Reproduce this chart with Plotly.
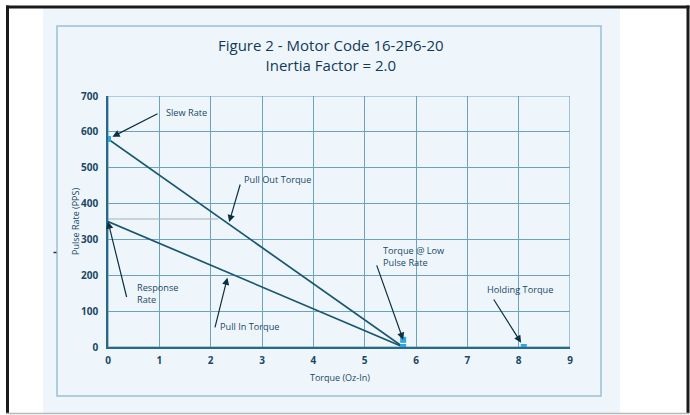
import plotly.graph_objects as go

# Motor code 16-2P6-20 speed/torque curves
torque_pullout = [0.0, 5.75]
rate_pullout = [580, 0]
torque_pullin = [0.0, 5.75]
rate_pullin = [350, 0]

slew_point = (0.0, 580)
response_point = (0.0, 350)
low_pulse_points = ([5.75, 5.75], [20, 0])
holding_point = (8.1, 0)
ref_level = 357          # faint horizontal guide near the response rate
ref_end_torque = 2.15

x_ticks = [0, 1, 2, 3, 4, 5, 6, 7, 8, 9]
y_ticks = [0, 100, 200, 300, 400, 500, 600, 700]

W, H = 690, 415
PX0, PX1 = 108, 570      # plot area in pixels
PY0, PY1 = 96, 347

TXT = "#1b4866"
GRID = "#6aa2c0"
AXIS = "#2a6888"
LINE = "#1a5670"
CYAN = "#2aa8e2"
ARROW = "#0e2f40"
FONT = "Open Sans"


def px(x):
    return x / W


def py(y):
    return 1 - y / H


def on_line(xs, ys, x):
    return ys[0] + (ys[1] - ys[0]) * (x - xs[0]) / (xs[1] - xs[0])


fig = go.Figure()

fig.add_trace(go.Scatter(x=torque_pullout, y=rate_pullout, mode="lines",
                         line=dict(color=LINE, width=1.7), hoverinfo="skip"))
fig.add_trace(go.Scatter(x=torque_pullin, y=rate_pullin, mode="lines",
                         line=dict(color=LINE, width=1.7), hoverinfo="skip"))
fig.add_trace(go.Scatter(x=[0, ref_end_torque], y=[ref_level, ref_level],
                         mode="lines", line=dict(color="#a4b2b8", width=1),
                         hoverinfo="skip"))
fig.add_trace(go.Scatter(
    x=[slew_point[0], low_pulse_points[0][0], low_pulse_points[0][1], holding_point[0]],
    y=[slew_point[1], low_pulse_points[1][0], low_pulse_points[1][1], holding_point[1]],
    mode="markers", marker=dict(color=CYAN, size=6, symbol="square"),
    hoverinfo="skip"))

# page decoration: paper sheet, border lines and inner frame
shapes = [
    dict(type="rect", xref="paper", yref="paper", x0=px(43), x1=px(620),
         y0=py(413), y1=py(8), fillcolor="#eef6fb", line=dict(width=0), layer="below"),
    dict(type="rect", xref="paper", yref="paper", x0=px(57), x1=px(601),
         y0=py(396), y1=py(26), fillcolor="rgba(0,0,0,0)",
         line=dict(color="#9cc0d4", width=1.5), layer="below"),
    dict(type="line", xref="paper", yref="paper", x0=px(7.5), x1=px(7.5),
         y0=py(413), y1=py(5.5), line=dict(color="#1a1a1a", width=3)),
    dict(type="line", xref="paper", yref="paper", x0=px(688), x1=px(688),
         y0=py(413), y1=py(5.5), line=dict(color="#1a1a1a", width=3)),
    dict(type="line", xref="paper", yref="paper", x0=px(6), x1=px(689.5),
         y0=py(7), y1=py(7), line=dict(color="#1a1a1a", width=3)),
    dict(type="line", xref="paper", yref="paper", x0=px(6), x1=px(689.5),
         y0=py(413.5), y1=py(413.5), line=dict(color="#b8b8b8", width=1.5)),
    # small ink mark on the sheet margin
    dict(type="line", xref="paper", yref="paper", x0=px(53.5), x1=px(56.5),
         y0=py(252.5), y1=py(252.5), line=dict(color="#333333", width=1.5)),
    # plot area border
    dict(type="rect", xref="x", yref="y", x0=0, x1=9, y0=0, y1=700,
         line=dict(color=GRID, width=1.2), fillcolor="rgba(0,0,0,0)", layer="below"),
]

annotations = [
    dict(text="Figure 2 - Motor Code 16-2P6-20<br>Inertia Factor = 2.0",
         xref="paper", yref="paper", x=px(331), y=py(55), showarrow=False,
         xanchor="center", yanchor="middle",
         font=dict(family=FONT, size=15, color="#123a58", weight=500)),
    dict(text="Torque (Oz-In)", xref="paper", yref="paper", x=px(340), y=py(377),
         xanchor="center", yanchor="middle", showarrow=False,
         font=dict(family=FONT, size=9, color=TXT, weight=500)),
    dict(text="Pulse Rate (PPS)", xref="paper", yref="paper", x=px(75), y=py(222),
         xanchor="center", yanchor="middle", showarrow=False, textangle=-90,
         font=dict(family=FONT, size=9, color=TXT, weight=500)),
]


def label(text, x, y, align="left"):
    annotations.append(dict(text=text, xref="paper", yref="paper", x=px(x), y=py(y),
                            xanchor="left", yanchor="middle", align=align,
                            showarrow=False,
                            font=dict(family=FONT, size=9.2, color=TXT, weight=500)))


def pointer(x, y, ax, ay, standoff=2):
    annotations.append(dict(text="", x=x, y=y, xref="x", yref="y", ax=ax, ay=ay,
                            showarrow=True, arrowhead=2, arrowsize=1.2,
                            arrowwidth=1.2, arrowcolor=ARROW, standoff=standoff))


label("Slew Rate", 164, 113)
pointer(slew_point[0], slew_point[1], 51, -26, standoff=5)

label("Pull Out Torque", 242, 179)
t_po = 2.35
pointer(t_po, on_line(torque_pullout, rate_pullout, t_po), 12, -41, standoff=2)

label("Pull In Torque", 218, 326)
pointer(t_po, on_line(torque_pullin, rate_pullin, t_po), -14, 56, standoff=5)

label("Response<br>Rate", 135, 293)
pointer(response_point[0], response_point[1], 19, 77, standoff=0)

label("Torque @ Low<br>Pulse Rate", 381, 256)
pointer(low_pulse_points[0][0], low_pulse_points[1][0], -27, -76, standoff=0)

label("Holding Torque", 485, 289)
pointer(holding_point[0], holding_point[1], -31, -49, standoff=5)

fig.update_layout(
    width=W, height=H, margin=dict(l=0, r=0, t=0, b=0, autoexpand=False),
    paper_bgcolor="white", plot_bgcolor="rgba(0,0,0,0)",
    showlegend=False, shapes=shapes, annotations=annotations,
    xaxis=dict(domain=[px(PX0), px(PX1)], range=[0, 9], tickvals=x_ticks,
               showgrid=True, gridcolor=GRID, gridwidth=1, zeroline=False,
               showline=True, linecolor=AXIS, linewidth=1.6, ticks="",
               ticklabelstandoff=3,
               tickfont=dict(family=FONT, size=10, color=TXT, weight=700),
               fixedrange=True),
    yaxis=dict(domain=[py(PY1), py(PY0)], range=[0, 700], tickvals=y_ticks,
               showgrid=True, gridcolor=GRID, gridwidth=1, zeroline=False,
               showline=True, linecolor=AXIS, linewidth=1.6, ticks="",
               ticklabelstandoff=6,
               tickfont=dict(family=FONT, size=10, color=TXT, weight=700),
               fixedrange=True),
)

fig.write_html("out.html")
